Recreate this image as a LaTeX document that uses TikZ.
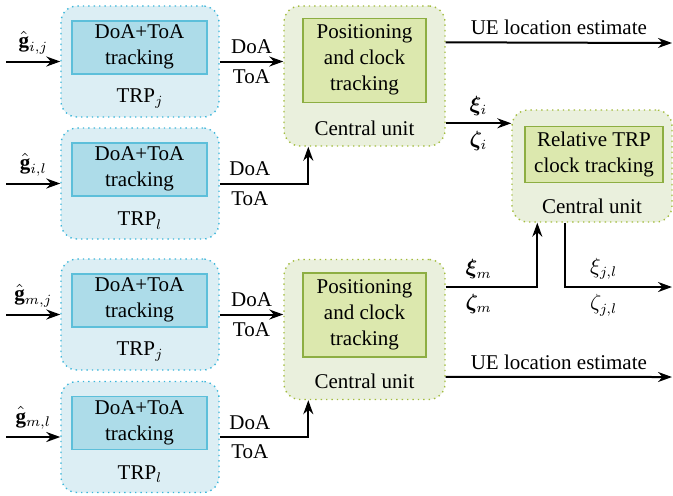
\documentclass[tikz,border=0pt]{standalone}
\usepackage{amsmath,amssymb,bm}
\usepackage{fontspec}
\setmainfont{Liberation Serif}
\usepackage{tikz}
\usetikzlibrary{arrows.meta,positioning,calc}
\definecolor{TrpFill}{HTML}{DCEEF4}
\definecolor{TrpLine}{HTML}{3CB6DA}
\definecolor{TrkFill}{HTML}{ADDCE9}
\definecolor{TrkLine}{HTML}{5DBFDA}
\definecolor{CuFill}{HTML}{EAF0DD}
\definecolor{CuLine}{HTML}{A3BC3E}
\definecolor{PosFill}{HTML}{DCE8AE}
\definecolor{PosLine}{HTML}{8DAE42}
\tikzset{
  flow/.style={-{Stealth[length=7pt,width=5pt]}, line width=1pt},
  unit/.style={rounded corners=8pt, dotted, line width=0.7pt, inner sep=0pt},
  trp/.style={unit, draw=TrpLine, fill=TrpFill, minimum width=79pt, minimum height=55.5pt},
  cu/.style={unit, draw=CuLine, fill=CuFill, minimum width=80.5pt, minimum height=70pt},
  block/.style={line width=0.8pt, align=center, inner sep=0pt},
  trk/.style={block, draw=TrkLine, fill=TrkFill, minimum width=67.5pt, minimum height=26.5pt},
  posbox/.style={block, draw=PosLine, fill=PosFill, minimum width=61.5pt, minimum height=42pt},
  lbl/.style={inner sep=1pt},
}

\begin{document}
\begin{tikzpicture}[x=0.5pt,y=-0.5pt,font=\fontsize{10.5}{13}\selectfont]
  \useasboundingbox (0,0) rectangle (673,495);

  % TRP units with their input channel estimates
  \foreach \nm/\y/\sub/\g in {ij/61.5/j/{i,j}, il/183.5/l/{i,l}, mj/314.5/j/{m,j}, ml/437/l/{m,l}} {
    \node[trp] (trp\nm) at (140,\y) {};
    \node[trk] (trk\nm) at ($(trp\nm.north)+(-0.5,42)$) {DoA+ToA\\tracking};
    \node[lbl] (trp\nm lbl) at ($(trp\nm.south)+(0,-19)$) {TRP$_\sub$};
    \coordinate (g\nm) at ($(trp\nm.west)+(-54,0)$);
    \draw[flow] (g\nm) -- node[above] {$\hat{\mathbf{g}}_{\g}$} (trp\nm);
  }

  % central units
  \node[cu] (cui) at (364.5,76) {};
  \node[posbox] (posi) at ($(cui.north)+(0,55)$) {Positioning\\and clock\\tracking};
  \node[lbl] (cuilbl) at ($(cui.south)+(0,-18)$) {Central unit};
  \node[cu] (cub) at (364.5,329.5) {};
  \node[posbox] (posm) at ($(cub.north)+(0,56)$) {Positioning\\and clock\\tracking};
  \node[lbl] (cublbl) at ($(cub.south)+(0,-19)$) {Central unit};

  \node[cu,minimum width=80pt,minimum height=56pt] (rel) at (592,166) {};
  \node[posbox,minimum width=69pt,minimum height=28pt] (posrel) at ($(rel.north)+(2,45)$) {Relative TRP\\clock tracking};
  \node[lbl] (rellbl) at ($(rel.south)+(0,-16)$) {Central unit};

  \coordinate (cuiin) at ($(cui.south west)+(25,0)$);
  \coordinate (cubin) at ($(cub.south west)+(25,0)$);
  \coordinate (uei) at ($(cui.north east)+(0,37)$);
  \coordinate (ueiend) at (672,43);
  \coordinate (uem) at ($(cub.north east)+(0,118)$);
  \coordinate (uemend) at (672,377);
  \coordinate (xii) at ($(cui.north east)+(0,118)$);
  \coordinate (xim) at ($(cub.north east)+(0,28)$);
  \coordinate (relin) at ($(rel.south west)+(26,0)$);
  \coordinate (relout) at ($(rel.south west)+(54,0)$);
  \coordinate (xijlend) at (672,287);

  % DoA / ToA links
  \draw[flow] (trpij.east) -- node[above] {DoA} node[below] {ToA} (trpij.east -| cui.west);
  \draw[flow] (trpil.east) -| node[pos=0.17,above] {DoA} node[pos=0.17,below] {ToA} (cuiin);
  \draw[flow] (trpmj.east) -- node[above] {DoA} node[below] {ToA} (trpmj.east -| cub.west);
  \draw[flow] (trpml.east) -| node[pos=0.17,above] {DoA} node[pos=0.17,below] {ToA} (cubin);

  % outputs
  \draw[flow] (uei) -- node[above] {UE location estimate} (ueiend);
  \draw[flow] (uem) -- node[above] {UE location estimate} (uemend);
  \draw[flow] (xii) -- node[above] {$\bm{\xi}_i$} node[below] {$\bm{\zeta}_i$} (xii -| rel.west);
  \draw[flow] (xim) -| node[pos=0.18,above] {$\bm{\xi}_m$} node[pos=0.18,below] {$\bm{\zeta}_m$} (relin);
  \draw[flow] (relout) |- node[pos=0.68,above] {$\xi_{j,l}$} node[pos=0.68,below] {$\zeta_{j,l}$} (xijlend);
\end{tikzpicture}
\end{document}
